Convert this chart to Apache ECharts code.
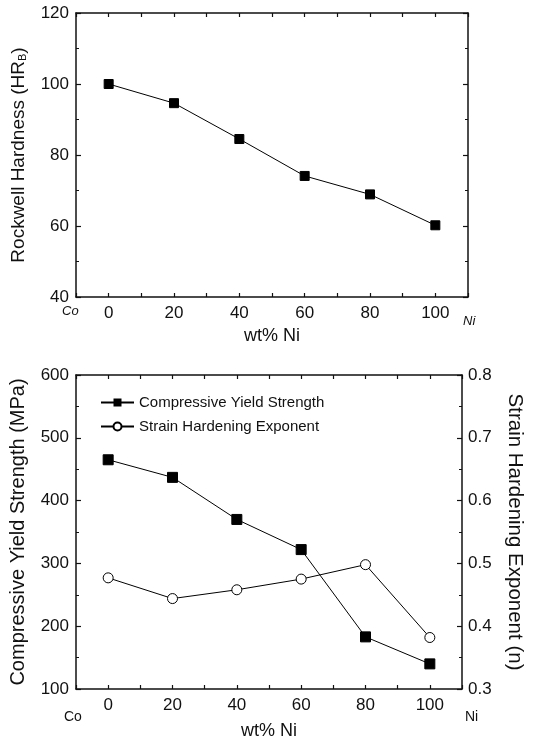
<!DOCTYPE html>
<html>
<head>
<meta charset="utf-8">
<script src="https://cdn.jsdelivr.net/npm/echarts@6/dist/echarts.min.js"></script>
<style>
html,body{margin:0;padding:0;background:#fff;}
#chart{width:533px;height:741px;}
</style>
</head>
<body>
<div id="chart"></div>
<script>
// ---- data ----
const niContent = [0, 20, 40, 60, 80, 100];               // wt% Ni
const rockwellHardness = [100.0, 94.6, 84.5, 74.1, 68.9, 60.2];   // HRB
const yieldStrength = [465, 437, 370, 322, 183, 140];          // MPa
const hardeningExponent = [0.477, 0.444, 0.458, 0.475, 0.498, 0.382]; // n
const xTickLabels = [0, 20, 40, 60, 80, 100];
const seriesNames = ['Compressive Yield Strength', 'Strain Hardening Exponent'];

const FONT = '"Liberation Sans", Arial, Helvetica, sans-serif';
const INK = '#111';

const pairs = (xs, ys) => xs.map((x, i) => [x, ys[i]]);
const xFmt = v => (xTickLabels.indexOf(v) >= 0 ? String(v) : '');

function xAxisBase(gridIndex, position, labels, nameOpt) {
  const ax = {
    type: 'value', gridIndex, position, min: -10, max: 110, interval: 10,
    axisLine: { show: true, onZero: false, lineStyle: { color: INK, width: 1.5 } },
    axisTick: { show: true, inside: true, length: 4, lineStyle: { color: INK, width: 1.2 } },
    splitLine: { show: false },
    axisLabel: { show: labels, formatter: xFmt, color: INK, fontSize: 17, fontFamily: FONT, margin: 8 }
  };
  if (nameOpt) Object.assign(ax, nameOpt);
  return ax;
}
function yAxisBase(gridIndex, position, min, max, interval, labels, extra) {
  const ax = {
    type: 'value', gridIndex, position, min, max, interval,
    axisLine: { show: true, onZero: false, lineStyle: { color: INK, width: 1.5 } },
    axisTick: { show: true, inside: true, length: 5, lineStyle: { color: INK, width: 1.2 } },
    minorTick: { show: true, splitNumber: 2, length: 3, lineStyle: { color: INK, width: 1 } },
    splitLine: { show: false },
    axisLabel: { show: labels, color: INK, fontSize: 17, fontFamily: FONT, margin: 7 }
  };
  if (extra) Object.assign(ax, extra);
  return ax;
}

const chart = echarts.init(document.getElementById('chart'), null, { renderer: 'canvas' });
chart.setOption({
  backgroundColor: '#fff',
  animation: false,
  textStyle: { fontFamily: FONT, color: INK },
  grid: [
    { left: 76, top: 13, width: 392, height: 284 },
    { left: 75, top: 375, width: 397, height: 315 }
  ],
  legend: {
    left: 100, top: 395, orient: 'vertical', padding: 0,
    itemWidth: 33, itemHeight: 10, itemGap: 9,
    textStyle: { fontSize: 15, color: INK, fontFamily: FONT },
    data: seriesNames
  },
  xAxis: [
    xAxisBase(0, 'bottom', true, {
      name: 'wt% Ni', nameLocation: 'middle', nameGap: 30,
      nameTextStyle: { fontSize: 18, color: INK, fontFamily: FONT }
    }),
    xAxisBase(0, 'top', false),
    xAxisBase(1, 'bottom', true, {
      name: 'wt% Ni', nameLocation: 'middle', nameGap: 33,
      nameTextStyle: { fontSize: 18, color: INK, fontFamily: FONT }
    }),
    xAxisBase(1, 'top', false)
  ],
  yAxis: [
    yAxisBase(0, 'left', 40, 120, 20, true, {
      name: '{a|Rockwell Hardness (HR}{s|B}{a|)}', nameLocation: 'middle', nameGap: 48,
      nameTextStyle: {
        rich: {
          a: { fontSize: 19, color: INK, fontFamily: FONT },
          s: { fontSize: 11, color: INK, fontFamily: FONT, verticalAlign: 'bottom', padding: [8, 0, 0, 0] }
        }
      }
    }),
    yAxisBase(0, 'right', 40, 120, 20, false),
    yAxisBase(1, 'left', 100, 600, 100, true, {
      name: 'Compressive Yield Strength (MPa)', nameLocation: 'middle', nameGap: 48,
      nameTextStyle: { fontSize: 20, color: INK, fontFamily: FONT }
    }),
    yAxisBase(1, 'right', 0.3, 0.8, 0.1, true, {
      name: 'Strain Hardening Exponent (n)', nameLocation: 'middle', nameGap: 42, nameRotate: -90,
      nameTextStyle: { fontSize: 20.5, color: INK, fontFamily: FONT },
      axisLabel: { show: true, color: INK, fontSize: 17, fontFamily: FONT, margin: 6, formatter: v => v.toFixed(1) }
    })
  ],
  series: [
    {
      type: 'line', name: 'Rockwell Hardness', xAxisIndex: 0, yAxisIndex: 0,
      data: pairs(niContent, rockwellHardness),
      symbol: 'rect', symbolSize: 9,
      itemStyle: { color: '#000', borderColor: '#000' },
      lineStyle: { color: '#000', width: 1 }
    },
    {
      type: 'line', name: seriesNames[0], xAxisIndex: 2, yAxisIndex: 2,
      data: pairs(niContent, yieldStrength),
      symbol: 'rect', symbolSize: 10,
      itemStyle: { color: '#000', borderColor: '#000' },
      lineStyle: { color: '#000', width: 1 }
    },
    {
      type: 'line', name: seriesNames[1], xAxisIndex: 2, yAxisIndex: 3,
      data: pairs(niContent, hardeningExponent),
      symbol: 'circle', symbolSize: 10,
      itemStyle: { color: '#fff', borderColor: '#000', borderWidth: 1 },
      lineStyle: { color: '#000', width: 1 }
    }
  ],
  graphic: [
    { type: 'text', left: 62, top: 305, style: { text: 'Co', font: 'italic 13px ' + FONT, fill: INK } },
    { type: 'text', left: 463, top: 315, style: { text: 'Ni', font: 'italic 13px ' + FONT, fill: INK } },
    { type: 'text', left: 64, top: 710, style: { text: 'Co', font: '14px ' + FONT, fill: INK } },
    { type: 'text', left: 465, top: 710, style: { text: 'Ni', font: '14px ' + FONT, fill: INK } }
  ]
});
</script>
</body>
</html>
